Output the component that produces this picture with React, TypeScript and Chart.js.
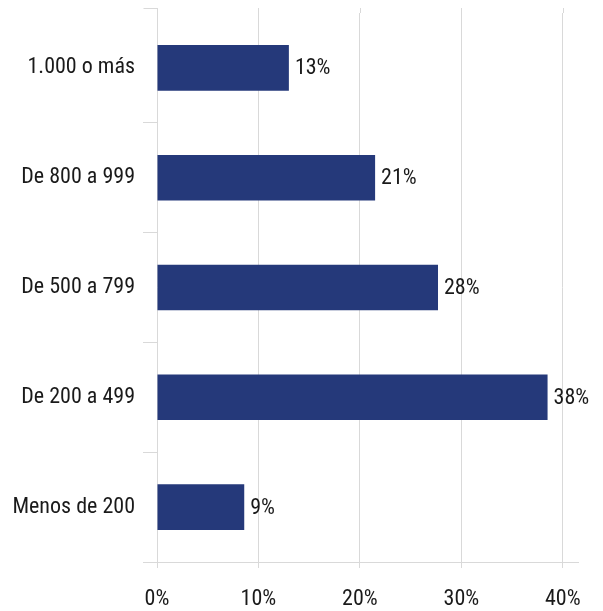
import React, { useEffect, useRef } from "react";
import { Chart, registerables } from "chart.js";

Chart.register(...registerables);

const categories = ["1.000 o más", "De 800 a 999", "De 500 a 799", "De 200 a 499", "Menos de 200"];
const values = [13.0, 21.5, 27.7, 38.5, 8.6];
const valueLabels = ["13%", "21%", "28%", "38%", "9%"];
const xTicks = [0, 10, 20, 30, 40];

const FONT = "'Roboto Condensed', 'Roboto', sans-serif";
const FONT_SIZE = 22;
const GRID = "#d9d9d9";
const TEXT = "#1a1a1a";
const BAR = "#25397a";
const TOP_EXT = 5;

export default function App() {
  const ref = useRef<HTMLCanvasElement | null>(null);
  useEffect(() => {
    if (!ref.current) return;
    const topExtension = {
      id: "topExtension",
      beforeDatasetsDraw(chart: any) {
        const ctx = chart.ctx;
        const { top } = chart.chartArea;
        const xs = chart.scales.x;
        ctx.save();
        ctx.strokeStyle = GRID;
        ctx.lineWidth = 1;
        ctx.beginPath();
        xs.ticks.forEach((t: any) => {
          const px = Math.round(xs.getPixelForValue(t.value)) + 0.5;
          ctx.moveTo(px, top - TOP_EXT);
          ctx.lineTo(px, top);
        });
        const x0 = Math.round(xs.getPixelForValue(0)) + 0.5;
        ctx.moveTo(x0 - 14, top - TOP_EXT + 0.5);
        ctx.lineTo(x0, top - TOP_EXT + 0.5);
        ctx.stroke();
        ctx.restore();
      },
    };
    const labelPlugin = {
      id: "valueLabels",
      afterDatasetsDraw(chart: any) {
        const ctx = chart.ctx;
        const meta = chart.getDatasetMeta(0);
        ctx.save();
        ctx.font = `normal ${FONT_SIZE}px ${FONT}`;
        ctx.fillStyle = TEXT;
        ctx.textAlign = "left";
        ctx.textBaseline = "middle";
        meta.data.forEach((el: any, i: number) => {
          ctx.fillText(valueLabels[i], el.x + 6, el.y + 1);
        });
        ctx.restore();
      },
    };
    const chart = new Chart(ref.current, {
      type: "bar",
      data: {
        labels: categories,
        datasets: [
          {
            data: values,
            backgroundColor: BAR,
            categoryPercentage: 1,
            barPercentage: 0.415,
          },
        ],
      },
      options: {
        indexAxis: "y",
        responsive: false,
        animation: false,
        layout: { padding: { top: 13, right: 25, left: 0, bottom: 0 } },
        plugins: { legend: { display: false }, tooltip: { enabled: false } },
        scales: {
          x: {
            min: 0,
            max: 41.5,
            afterBuildTicks: (scale: any) => {
              scale.ticks = xTicks.map((v) => ({ value: v }));
            },
            afterFit: (scale: any) => {
              scale.height = 49;
              scale.paddingLeft = 0;
              scale.paddingRight = 0;
            },
            grid: { color: GRID, lineWidth: 1, tickLength: 6, drawTicks: true },
            border: { display: true, color: GRID },
            ticks: {
              padding: 18,
              color: TEXT,
              font: { family: FONT, size: FONT_SIZE, weight: "normal" },
              callback: (v: any) => `${v}%`,
            },
          },
          y: {
            afterFit: (scale: any) => {
              scale.width = 157;
              scale.paddingTop = 0;
              scale.paddingBottom = 0;
            },
            grid: {
              color: (c: any) => (c.index === 0 ? "rgba(0,0,0,0)" : GRID),
              offset: true,
              drawOnChartArea: false,
              tickLength: 14,
            },
            border: { display: false },
            ticks: {
              padding: 8,
              color: TEXT,
              font: { family: FONT, size: FONT_SIZE, weight: "normal" },
            },
          },
        },
      },
      plugins: [topExtension, labelPlugin],
    });
    return () => chart.destroy();
  }, []);
  return (
    <div style={{ position: "fixed", left: 0, top: 0, width: 603, height: 611, background: "#fff" }}>
      <canvas ref={ref} width={603} height={611} style={{ display: "block" }} />
    </div>
  );
}
